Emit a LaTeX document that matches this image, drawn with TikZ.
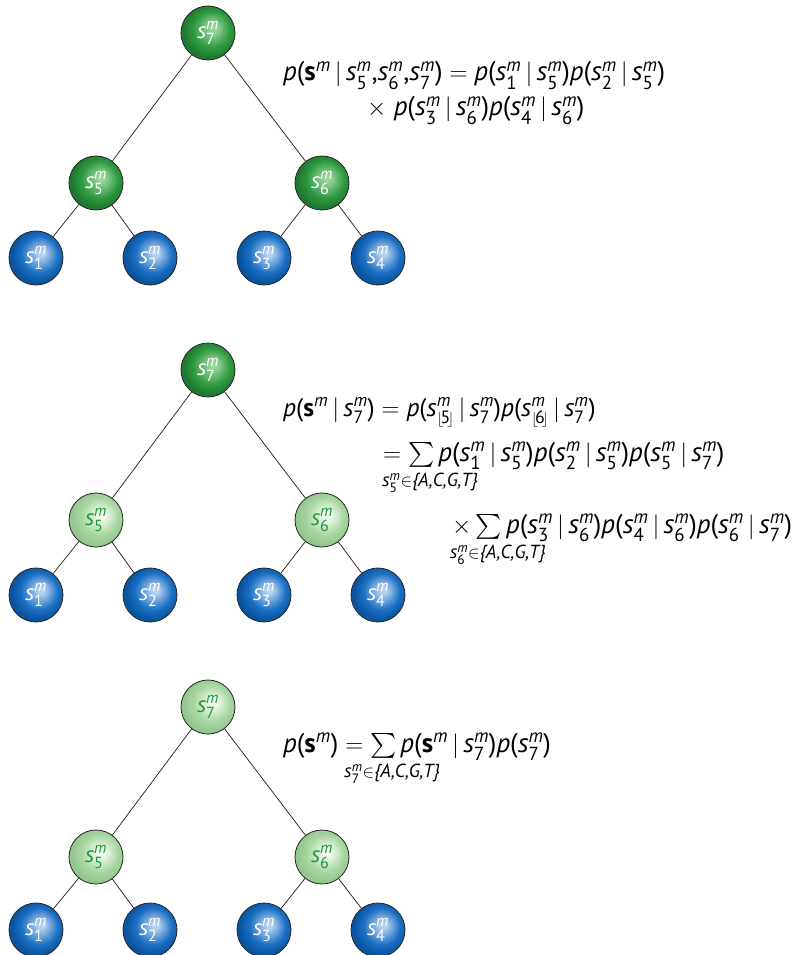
\documentclass[tikz,border=0pt]{standalone}
\usepackage{amsmath}
\usepackage{mathtools}
\usepackage{graphicx}
\usepackage{fontspec}
\setmainfont{PT Sans}
\definecolor{dgE}{HTML}{1E7A2E}
\definecolor{dgM}{HTML}{2F9A40}
\definecolor{dgL}{HTML}{9AD69A}
\definecolor{bE}{HTML}{0A55A0}
\definecolor{bM}{HTML}{1B6FC4}
\definecolor{bL}{HTML}{B5D2F0}
\definecolor{lgE}{HTML}{93C88C}
\definecolor{lgM}{HTML}{A8D6A2}
\definecolor{lgL}{HTML}{F2FAF0}
\definecolor{gtext}{HTML}{1E9A3A}
\pgfdeclareradialshading{darkg}{\pgfpoint{5bp}{5bp}}{color(0bp)=(dgL); color(3bp)=(dgL); color(17bp)=(dgM); color(25bp)=(dgE); color(50bp)=(dgE)}
\pgfdeclareradialshading{blues}{\pgfpoint{5bp}{5bp}}{color(0bp)=(bL); color(3bp)=(bL); color(17bp)=(bM); color(25bp)=(bE); color(50bp)=(bE)}
\pgfdeclareradialshading{lightg}{\pgfpoint{5bp}{5bp}}{color(0bp)=(lgL); color(3bp)=(lgL); color(17bp)=(lgM); color(25bp)=(lgE); color(50bp)=(lgE)}
\newcommand{\vi}[1]{\text{\itshape #1}}
\newcommand{\vr}[1]{\text{#1}}
\newcommand{\sv}[1]{\vi{s}^{\vi{m}}_{\vr{#1}}}
\newcommand{\sfl}[1]{\vi{s}^{\vi{m}}_{\scalebox{0.6}{$\lfloor$}\!\vr{#1}\!\scalebox{0.6}{$\rfloor$}}}
\newcommand{\bsm}{\text{\bfseries s}^{\vi{m}}}
\newcommand{\pp}[1]{\vi{p}\vr{(}#1\vr{)}}
\newcommand{\gv}{\,|\,}
\newcommand{\acgt}{\vr{\itshape\{A,C,G,T\}}}
\newcommand{\sumover}[1]{\sum\limits_{\mathclap{\hspace{18pt}\rule{0pt}{15pt}#1}}}
\tikzset{
  ball/.style={circle, draw=black!85, line width=0.8pt, minimum size=54pt, inner sep=0pt, shade, font=\fontsize{23}{27}\selectfont},
  rootd/.style={ball, shading=darkg, text=white},
  leaf/.style={ball, shading=blues, text=white},
  lgreen/.style={ball, shading=lightg, text=gtext},
  edge/.style={draw=black!90, line width=0.7pt},
  eq/.style={anchor=base west, inner sep=0pt, font=\fontsize{27}{32}\selectfont}
}
\begin{document}
\begin{tikzpicture}[x=1pt,y=-1pt]
\useasboundingbox (0,0) rectangle (802,955);
% ---------- panel 1 ----------
\node[rootd] (a7) at (208,33) {$\sv7$};
\node[rootd] (a5) at (96,183) {$\sv5$};
\node[rootd] (a6) at (322,183) {$\sv6$};
\node[leaf] (a1) at (36,258) {$\sv1$};
\node[leaf] (a2) at (150,258) {$\sv2$};
\node[leaf] (a3) at (264,258) {$\sv3$};
\node[leaf] (a4) at (378,258) {$\sv4$};
\draw[edge] (a7) -- (a5);
\draw[edge] (a7) -- (a6);
\draw[edge] (a5) -- (a1);
\draw[edge] (a5) -- (a2);
\draw[edge] (a6) -- (a3);
\draw[edge] (a6) -- (a4);
\node[eq] (f1a) at (283,81) {$\pp{\bsm\gv\sv5\vr{,}\sv6\vr{,}\sv7} = \pp{\sv1\gv\sv5}\pp{\sv2\gv\sv5}$};
\node[eq] (f1b) at (367,116) {$\times\ \pp{\sv3\gv\sv6}\pp{\sv4\gv\sv6}$};
% ---------- panel 2 ----------
\node[rootd] (b7) at (208,370) {$\sv7$};
\node[lgreen] (b5) at (96,520) {$\sv5$};
\node[lgreen] (b6) at (322,520) {$\sv6$};
\node[leaf] (b1) at (36,595) {$\sv1$};
\node[leaf] (b2) at (150,595) {$\sv2$};
\node[leaf] (b3) at (264,595) {$\sv3$};
\node[leaf] (b4) at (378,595) {$\sv4$};
\draw[edge] (b7) -- (b5);
\draw[edge] (b7) -- (b6);
\draw[edge] (b5) -- (b1);
\draw[edge] (b5) -- (b2);
\draw[edge] (b6) -- (b3);
\draw[edge] (b6) -- (b4);
\node[eq, font=\fontsize{25.5}{30}\selectfont] (f2a) at (283,416) {$\pp{\bsm\gv\sv7} = \pp{\sfl5\gv\sv7}\pp{\sfl6\gv\sv7}$};
\node[eq] (f2b) at (383,461) {$= \sumover{\sv5\in\acgt}\pp{\sv1\gv\sv5}\pp{\sv2\gv\sv5}\pp{\sv5\gv\sv7}$};
\node[eq] (f2c) at (452,533) {$\times \sumover{\sv6\in\acgt}\pp{\sv3\gv\sv6}\pp{\sv4\gv\sv6}\pp{\sv6\gv\sv7}$};
% ---------- panel 3 ----------
\node[lgreen] (c7) at (208,707) {$\sv7$};
\node[lgreen] (c5) at (96,857) {$\sv5$};
\node[lgreen] (c6) at (322,857) {$\sv6$};
\node[leaf] (c1) at (36,930) {$\sv1$};
\node[leaf] (c2) at (150,930) {$\sv2$};
\node[leaf] (c3) at (264,930) {$\sv3$};
\node[leaf] (c4) at (378,930) {$\sv4$};
\draw[edge] (c7) -- (c5);
\draw[edge] (c7) -- (c6);
\draw[edge] (c5) -- (c1);
\draw[edge] (c5) -- (c2);
\draw[edge] (c6) -- (c3);
\draw[edge] (c6) -- (c4);
\node[eq] (f3) at (283,752) {$\pp{\bsm} = \sumover{\sv7\in\acgt}\pp{\bsm\gv\sv7}\pp{\sv7}$};
\end{tikzpicture}
\end{document}
